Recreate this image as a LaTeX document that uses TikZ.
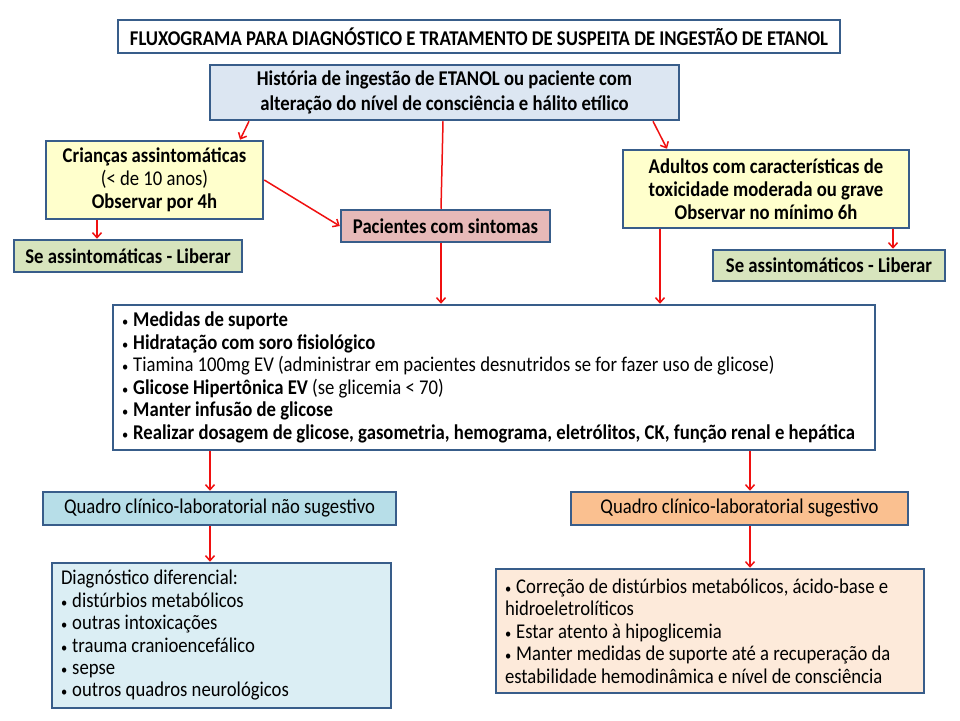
\documentclass[tikz,border=0pt]{standalone}
\usepackage{fontspec}
\setmainfont{Carlito}[FakeStretch=0.89]
\usetikzlibrary{arrows.meta}
\definecolor{bord}{HTML}{385D8A}
\definecolor{fhist}{HTML}{DCE6F2}
\definecolor{fyel}{HTML}{FFFFCC}
\definecolor{fpink}{HTML}{E6B9B8}
\definecolor{fgreen}{HTML}{D7E4BD}
\definecolor{fqn}{HTML}{B7DEE8}
\definecolor{fqs}{HTML}{FAC090}
\definecolor{fdiag}{HTML}{DBEEF4}
\definecolor{fcorr}{HTML}{FDEADA}
\definecolor{arr}{HTML}{F01010}
\newcommand{\fixsp}{\spaceskip=\fontdimen2\font\relax}
\newcommand{\bul}{{\fontsize{14}{14}\selectfont\mdseries •}\hspace{5pt}}
\begin{document}
\begin{tikzpicture}[x=1pt,y=-1pt,
  box/.style={draw=bord,line width=2.5pt,inner sep=0pt,align=center,
    font=\bfseries\fontsize{21}{23}\selectfont},
  lbox/.style={draw=bord,line width=2.5pt,inner xsep=9pt,inner ysep=0pt,align=flush left,
    font=\fontsize{21}{22.5}\selectfont\fixsp},
  conn/.style={draw=arr,line width=1.5pt,-{Straight Barb[length=5pt,width=9pt,line width=1.5pt]}},
  plain/.style={draw=arr,line width=1.5pt}]
\useasboundingbox (0,0) rectangle (960,720);
\fill[white] (0,0) rectangle (960,720);

\node[box,fill=white,minimum width=722pt,minimum height=33pt] (title) at (479,36.5)
  {FLUXOGRAMA PARA DIAGNÓSTICO E TRATAMENTO DE SUSPEITA DE INGESTÃO DE ETANOL};
\node[box,fill=fhist,minimum width=469pt,minimum height=55pt,font=\bfseries\fontsize{21}{25}\selectfont] (hist) at (444.5,92.5)
  {História de ingestão de ETANOL ou paciente com\\alteração do nível de consciência e hálito etílico};
\node[box,fill=fyel,minimum width=217pt,minimum height=78pt] (cri) at (154.5,180)
  {Crianças assintomáticas\\{\mdseries(< de 10 anos)}\\Observar por 4h};
\node[box,fill=fyel,minimum width=286pt,minimum height=78pt] (adu) at (766,189)
  {Adultos com características de\\toxicidade moderada ou grave\\Observar no mínimo 6h};
\node[box,fill=fpink,minimum width=209pt,minimum height=32pt] (pac) at (445.5,226)
  {Pacientes com sintomas};
\node[box,fill=fgreen,minimum width=228pt,minimum height=32pt] (seA) at (128,256)
  {Se assintomáticas - Liberar};
\node[box,fill=fgreen,minimum width=232pt,minimum height=31pt] (seB) at (829,265.5)
  {Se assintomáticos - Liberar};
\node[lbox,fill=white,text width=744pt,minimum height=145pt] (main) at (494,377.5)
  {\bul\textbf{Medidas de suporte}\\
   \bul\textbf{Hidratação com soro fisiológico}\\
   \bul Tiamina 100mg EV (administrar em pacientes desnutridos se for fazer uso de glicose)\\
   \bul\textbf{Glicose Hipertônica EV} (se glicemia < 70)\\
   \bul\textbf{Manter infusão de glicose}\\
   \bul\textbf{Realizar dosagem de glicose, gasometria, hemograma, eletrólitos, CK, função renal e hepática}};
\node[box,fill=fqn,minimum width=353pt,minimum height=33pt,font=\fontsize{21}{23}\selectfont] (qn) at (219.5,508.5)
  {Quadro clínico-laboratorial não sugestivo};
\node[box,fill=fqs,minimum width=337pt,minimum height=33pt,font=\fontsize{21}{23}\selectfont] (qs) at (739.5,508.5)
  {Quadro clínico-laboratorial sugestivo};
\node[lbox,fill=fdiag,text width=321pt,minimum height=145pt,font=\fontsize{21}{22.4}\selectfont\fixsp] (diag) at (221.5,635.5)
  {Diagnóstico diferencial:\\
   \bul distúrbios metabólicos\\
   \bul outras intoxicações\\
   \bul trauma cranioencefálico\\
   \bul sepse\\
   \bul outros quadros neurológicos};
\node[lbox,fill=fcorr,text width=410pt,minimum height=124pt] (corr) at (710,631)
  {\bul Correção de distúrbios metabólicos, ácido-base e\\
   hidroeletrolíticos\\
   \bul Estar atento à hipoglicemia\\
   \bul Manter medidas de suporte até a recuperação da\\
   estabilidade hemodinâmica e nível de consciência};

% connectors
\draw[conn] ([xshift=-195.5pt]hist.south) -- ([xshift=85.5pt]cri.north);
\draw[plain] ([xshift=-1.5pt]hist.south) -- ([xshift=-4.5pt]pac.north);
\draw[conn] ([xshift=208.5pt]hist.south) -- ([xshift=-99pt]adu.north);
\draw[conn] (cri.east) -- (pac.west);
\draw[conn] ([xshift=-57.5pt]cri.south) -- ([xshift=-31pt]seA.north);
\draw[conn] ([xshift=-4.5pt]pac.south) -- ([xshift=-53pt]main.north);
\draw[conn] ([xshift=-106pt]adu.south) -- ([xshift=166pt]main.north);
\draw[conn] ([xshift=127pt]adu.south) -- ([xshift=64pt]seB.north);
\draw[conn] ([xshift=-284pt]main.south) -- ([xshift=-9.5pt]qn.north);
\draw[conn] ([xshift=256pt]main.south) -- ([xshift=10.5pt]qs.north);
\draw[conn] ([xshift=-9.5pt]qn.south) -- ([xshift=-11.5pt]diag.north);
\draw[conn] ([xshift=10.5pt]qs.south) -- ([xshift=40pt]corr.north);
\end{tikzpicture}
\end{document}
